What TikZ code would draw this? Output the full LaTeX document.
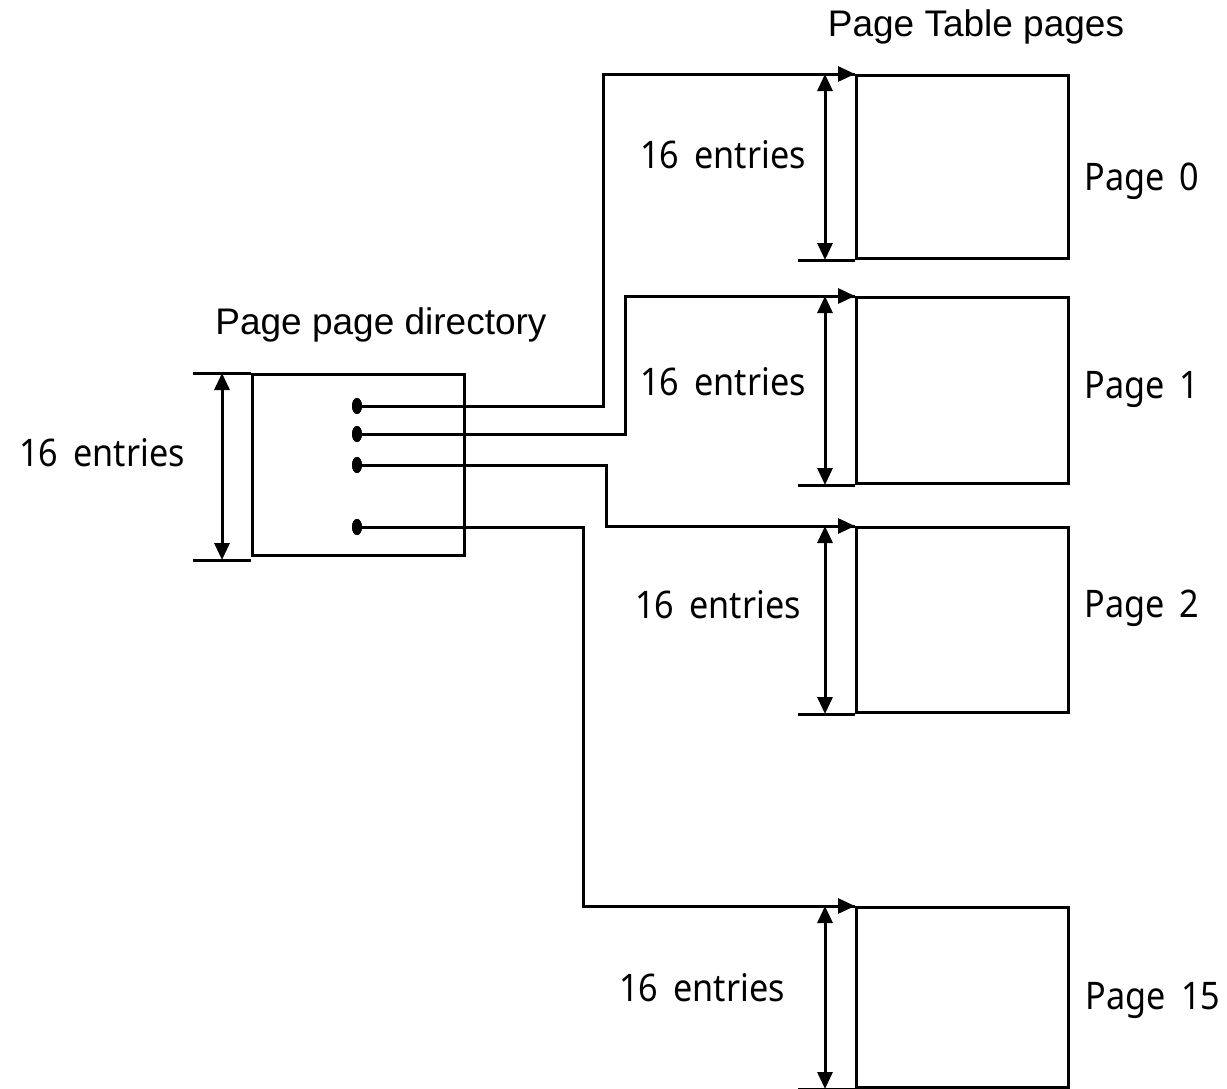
\documentclass[tikz,border=0pt]{standalone}
\usepackage{fontspec}
\setmainfont{Noto Sans}
\newfontfamily\labelfont[FakeStretch=0.9,WordSpace=1.7]{Noto Sans}
\newfontfamily\titlefont{Liberation Sans}
\usetikzlibrary{arrows.meta,shapes.geometric}
\begin{document}
\begin{tikzpicture}[x=1pt,y=-1pt,line width=3pt,
  tbl/.style={draw,rectangle,minimum width=212pt,inner sep=0pt,anchor=north west},
  lbl/.style={font=\labelfont\fontsize{38}{44}\selectfont,inner sep=0pt},
  ttl/.style={font=\titlefont\fontsize{37}{44}\selectfont,inner sep=0pt},
  tip/.style={-{Triangle[length=17pt,width=15pt]}},
  dim/.style={{Triangle[length=17pt,width=15pt]}-{Triangle[length=17pt,width=15pt]}},
  entry/.style={ellipse,fill,draw=none,minimum width=10pt,minimum height=16pt,inner sep=0pt}]
\useasboundingbox (0,0) rectangle (1227,1088);

% page directory
\node[tbl,minimum height=181pt] (dir) at (251,373) {};
\node[entry] (d1) at (357,406) {};
\node[entry] (d2) at (357,434) {};
\node[entry] (d3) at (357,465) {};
\node[entry] (d15) at (357,527) {};
\node[ttl] (dirtitle) at (381,325) {Page page directory};
\draw (dir.north west) -- ++(-58,0);
\draw (dir.south west) ++(0,3) -- ++(-58,0);
\draw[dim] ([xshift=-29pt]dir.north west) -- ([xshift=-29pt,yshift=-3pt]dir.south west);
\node[lbl] (dirn) at (102,453) {16 entries};

% page table pages
\node[ttl] (ptitle) at (976,27) {Page Table pages};
\node[tbl,minimum height=183pt] (p0) at (855,74) {};
\node[tbl,minimum height=186pt] (p1) at (855,296) {};
\node[tbl,minimum height=185pt] (p2) at (855,526) {};
\node[tbl,minimum height=180pt] (p15) at (855,906) {};

\foreach \p/\n/\y in {p0/0/181,p1/1/389,p2/2/608}{
  \node[lbl] (\p name) at (1142,\y) {Page \n};
}
\node[lbl] (p15name) at (1153,1000) {Page 15};

\node[lbl] (p0n) at (723,155) {16 entries};
\node[lbl] (p1n) at (723,382) {16 entries};
\node[lbl] (p2n) at (718,605) {16 entries};
\node[lbl] (p15n) at (702,988) {16 entries};

\foreach \p in {p0,p1,p2,p15}{
  \draw (\p.north west) -- ++(-57,0);
  \draw (\p.south west) -- ++(-57,0);
  \draw[dim] ([xshift=-30pt]\p.north west) -- ([xshift=-30pt]\p.south west);
}

% pointers from the directory entries
\draw[tip] (d1.center) -| (603,240) |- (p0.north west);
\draw[tip] (d2.center) -| (625,360) |- (p1.north west);
\draw[tip] (d3.center) -| (606,500) |- (p2.north west);
\draw[tip] (d15.center) -| (583,700) |- (p15.north west);
\foreach \d in {d1,d2,d3,d15} \node[entry] at (\d) {};
\end{tikzpicture}
\end{document}
